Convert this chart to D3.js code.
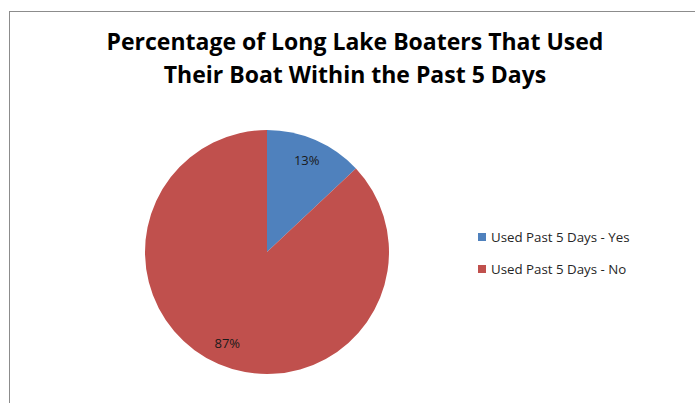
<!DOCTYPE html>
<html>
<head>
<meta charset="utf-8">
<script src="https://cdn.jsdelivr.net/npm/d3@7"></script>
<style>
  body { margin: 0; background: #fff; }
  svg { display: block; }
</style>
</head>
<body>
<div id="chart"></div>
<script>
// chart data
const categories = ["Used Past 5 Days - Yes", "Used Past 5 Days - No"];
const values = [13, 87];
const colors = ["#4F81BD", "#C0504D"];
const titleLines = ["Percentage of Long Lake Boaters That Used", "Their Boat Within the Past 5 Days"];

const W = 695, H = 403;
const fontFam = "'Open Sans', 'Noto Sans', sans-serif";

let svg = d3.select('#chart')
    .append('svg')
        .attr("width", W)
        .attr("height", H);

// chart area border (runs off right and bottom)
svg.append("rect")
    .attr("x", 9.5)
    .attr("y", 11.5)
    .attr("width", W)
    .attr("height", H)
    .attr("fill", "none")
    .attr("stroke", "#8c8c8c")
    .attr("stroke-width", 1);

// title
svg.append("text")
    .attr("x", 355)
    .attr("y", 50)
    .attr("text-anchor", "middle")
    .style("font-family", fontFam)
    .style("font-weight", "bold")
    .style("font-size", "23px")
    .attr("fill", "#000")
    .selectAll("tspan")
    .data(titleLines)
    .enter().append("tspan")
        .attr("x", 355)
        .attr("dy", function(d, i){ return i == 0 ? 0 : 33; })
        .text(function(d){ return d; });

// pie
const cx = 267, cy = 252, r = 122;
let pie = d3.pie().sort(null)(values);
let arc = d3.arc().innerRadius(0).outerRadius(r);
let labelArc = d3.arc().innerRadius(100).outerRadius(100);

let g = svg.append('g')
    .attr("transform", "translate(" + cx + "," + cy + ")");

g.selectAll("path")
    .data(pie)
    .enter().append("path")
        .attr("d", arc)
        .attr("fill", function(d, i){ return colors[i]; });

g.selectAll(".lbl")
    .data(pie)
    .enter().append("text")
        .attr("class", "lbl")
        .attr("transform", function(d){ return "translate(" + labelArc.centroid(d) + ")"; })
        .attr("text-anchor", "middle")
        .attr("dy", "0.35em")
        .style("font-family", fontFam)
        .style("font-size", "13px")
        .attr("fill", "#1a1a1a")
        .text(function(d){ return d.data + "%"; });

// legend
let legend = svg.append('g')
    .attr("transform", "translate(478,233)");

let items = legend.selectAll("g")
    .data(categories)
    .enter().append("g")
        .attr("transform", function(d, i){ return "translate(0," + (i * 32) + ")"; });

items.append("rect")
    .attr("width", 8)
    .attr("height", 8)
    .attr("fill", function(d, i){ return colors[i]; });

items.append("text")
    .attr("x", 13)
    .attr("y", 4)
    .attr("dy", "0.35em")
    .style("font-family", fontFam)
    .style("font-size", "13.3px")
    .attr("fill", "#262626")
    .text(function(d){ return d; });
</script>
</body>
</html>
